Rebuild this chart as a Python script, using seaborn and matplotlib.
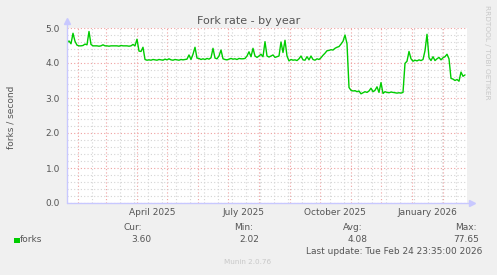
import matplotlib
matplotlib.use("Agg")
import matplotlib.pyplot as plt
import matplotlib.dates as mdates
import numpy as np
import pandas as pd
import seaborn as sns

# ---------------- data ----------------
start_date = "2025-01-21"
end_date = "2026-02-25"
sample_step = "2D"
forks = [
    4.58, 4.63, 4.55, 4.85, 4.62, 4.51, 4.49, 4.49, 4.50, 4.54,
    4.52, 4.90, 4.53, 4.49, 4.49, 4.49, 4.48, 4.49, 4.52, 4.49,
    4.49, 4.48, 4.49, 4.49, 4.49, 4.49, 4.48, 4.50, 4.49, 4.49,
    4.49, 4.48, 4.49, 4.53, 4.49, 4.68, 4.34, 4.33, 4.45, 4.10,
    4.08, 4.09, 4.08, 4.10, 4.09, 4.08, 4.10, 4.09, 4.08, 4.11,
    4.09, 4.12, 4.09, 4.08, 4.10, 4.09, 4.08, 4.10, 4.09, 4.10,
    4.11, 4.23, 4.10, 4.25, 4.45, 4.14, 4.13, 4.10, 4.12, 4.10,
    4.13, 4.11, 4.15, 4.42, 4.14, 4.12, 4.20, 4.37, 4.12, 4.10,
    4.09, 4.11, 4.13, 4.11, 4.12, 4.10, 4.13, 4.12, 4.12, 4.13,
    4.20, 4.32, 4.18, 4.42, 4.20, 4.16, 4.20, 4.25, 4.18, 4.61,
    4.20, 4.17, 4.20, 4.23, 4.16, 4.18, 4.20, 4.60, 4.30, 4.65,
    4.20, 4.06, 4.10, 4.08, 4.09, 4.07, 4.12, 4.20, 4.09, 4.08,
    4.18, 4.09, 4.20, 4.10, 4.08, 4.12, 4.10, 4.15, 4.22, 4.28,
    4.35, 4.36, 4.38, 4.37, 4.42, 4.45, 4.47, 4.54, 4.62, 4.80,
    4.55, 3.30, 3.22, 3.20, 3.21, 3.18, 3.20, 3.12, 3.15, 3.18,
    3.16, 3.20, 3.28, 3.18, 3.22, 3.32, 3.16, 3.44, 3.13, 3.18,
    3.16, 3.15, 3.17, 3.16, 3.15, 3.14, 3.15, 3.14, 3.16, 3.99,
    4.05, 4.33, 4.12, 4.05, 4.08, 4.06, 4.09, 4.07, 4.10, 4.35,
    4.82, 4.15, 4.07, 4.18, 4.07, 4.12, 4.16, 4.09, 4.15, 4.18,
    4.25, 4.12, 3.56, 3.54, 3.50, 3.53, 3.48, 3.74, 3.62, 3.66,
]
dates = pd.date_range(start_date, periods=len(forks), freq=sample_step)

month_labels = ["April 2025", "July 2025", "October 2025", "January 2026"]
month_label_dates = ["2025-04-16", "2025-07-16", "2025-10-16", "2026-01-16"]
minor_grid_start = "2025-01-04"
y_ticks = [0, 1, 2, 3, 4, 5]

legend_name = "forks"
stat_titles = ["Cur:", "Min:", "Avg:", "Max:"]
stat_values = ["3.60", "2.02", "4.08", "77.65"]
title = "Fork rate - by year"
ylabel = "forks / second"
last_update = "Last update: Tue Feb 24 23:35:00 2026"
footer = "Munin 2.0.76"
side_text = "RRDTOOL / TOBI OETIKER"

# ---------------- style ----------------
sns.set_theme(style="white")
plt.rcParams["font.family"] = ["DejaVu Sans"]

W, H = 497, 275
BG = "#f0f0f0"
TXT = "#555555"
AXC = "#c8c8ff"
MAJ = "#f0a0a0"
MIN = "#d4d4d4"
GREEN = "#00cc00"
FS = 6.5

fig = plt.figure(figsize=(W / 100, H / 100), dpi=100, facecolor=BG)
L, R, T, B = 67, 467, 28, 203
ax = fig.add_axes([L / W, 1 - B / H, (R - L) / W, (B - T) / H])
ax.set_facecolor("white")

sns.lineplot(x=dates, y=forks, ax=ax, color=GREEN, linewidth=1.0)

ax.set_xlim(pd.Timestamp(start_date), pd.Timestamp(end_date))
ax.set_ylim(0, 5)

# ticks & grid
ax.xaxis.set_major_locator(mdates.MonthLocator())
minor_dates = pd.date_range(minor_grid_start, end_date, freq="14D")
ax.xaxis.set_minor_locator(matplotlib.ticker.FixedLocator(mdates.date2num(minor_dates)))
ax.set_yticks(y_ticks)
ax.yaxis.set_minor_locator(matplotlib.ticker.MultipleLocator(0.2))
ax.yaxis.set_major_formatter(matplotlib.ticker.FormatStrFormatter("%.1f"))

ax.grid(which="minor", color=MIN, linestyle=(0, (1, 2)), linewidth=0.8)
ax.grid(which="major", color=MAJ, linestyle=(0, (1, 2)), linewidth=0.8)
ax.set_axisbelow(True)

ax.tick_params(axis="x", which="major", direction="out", length=2.5, width=0.8,
               color="#f08080", labelbottom=False)
ax.tick_params(axis="x", which="minor", direction="out", length=1.5, width=0.8,
               color=MIN, labelbottom=False)
ax.tick_params(axis="y", which="major", direction="out", length=2.5, width=0.8,
               color="#f08080", labelsize=FS, labelcolor=TXT, pad=2.5)
ax.tick_params(axis="y", which="minor", direction="out", length=1.5, width=0.8,
               color=MIN)
ax.set_xlabel("")
ax.set_ylabel("")
for s in ax.spines.values():
    s.set_visible(False)

# axis lines with arrows
ax.plot([0, 0], [0, 1.03], transform=ax.transAxes, color=AXC, lw=1, clip_on=False, zorder=5)
ax.plot([0, 1.01], [0, 0], transform=ax.transAxes, color=AXC, lw=1, clip_on=False, zorder=5)
ax.plot([0], [1.04], transform=ax.transAxes, marker="^", ms=4.5, color=AXC, mec=AXC,
        clip_on=False, zorder=5)
ax.plot([1.012], [0], transform=ax.transAxes, marker=">", ms=4.5, color=AXC, mec=AXC,
        clip_on=False, zorder=5)

# month labels
for lab, d in zip(month_labels, month_label_dates):
    ax.text(pd.Timestamp(d), -0.057, lab, transform=ax.get_xaxis_transform(),
            ha="center", va="center", fontsize=FS, color=TXT)


def P(x, y):
    return x / W, 1 - y / H


fig.text(*P(248.5, 21.5), title, ha="center", va="center", fontsize=8, color=TXT)
fig.text(*P(11, 117), ylabel, ha="center", va="center", rotation=90, fontsize=FS, color=TXT)
fig.text(*P(487, 52), side_text, ha="center", va="center", rotation=270,
         fontsize=5.3, color="#c8c8c8")

# legend
fig.patches.append(matplotlib.patches.Rectangle(P(14, 243), 5.5 / W, 5.5 / H,
                                                transform=fig.transFigure,
                                                facecolor=GREEN, edgecolor="none"))
fig.text(*P(20, 239.5), legend_name, ha="left", va="center", fontsize=FS, color=TXT)
title_x = [142, 253, 363, 477]
value_x = [151, 259, 368, 479]
for t, v, tx, vx in zip(stat_titles, stat_values, title_x, value_x):
    fig.text(*P(tx, 227), t, ha="right", va="center", fontsize=FS, color=TXT)
    fig.text(*P(vx, 239.5), v, ha="right", va="center", fontsize=FS, color=TXT)
fig.text(*P(482, 251.5), last_update, ha="right", va="center", fontsize=FS, color=TXT)
fig.text(*P(248, 262.5), footer, ha="center", va="center", fontsize=5.2, color="#c8c8c8")

fig.savefig("out.png", dpi=100, facecolor=BG)
